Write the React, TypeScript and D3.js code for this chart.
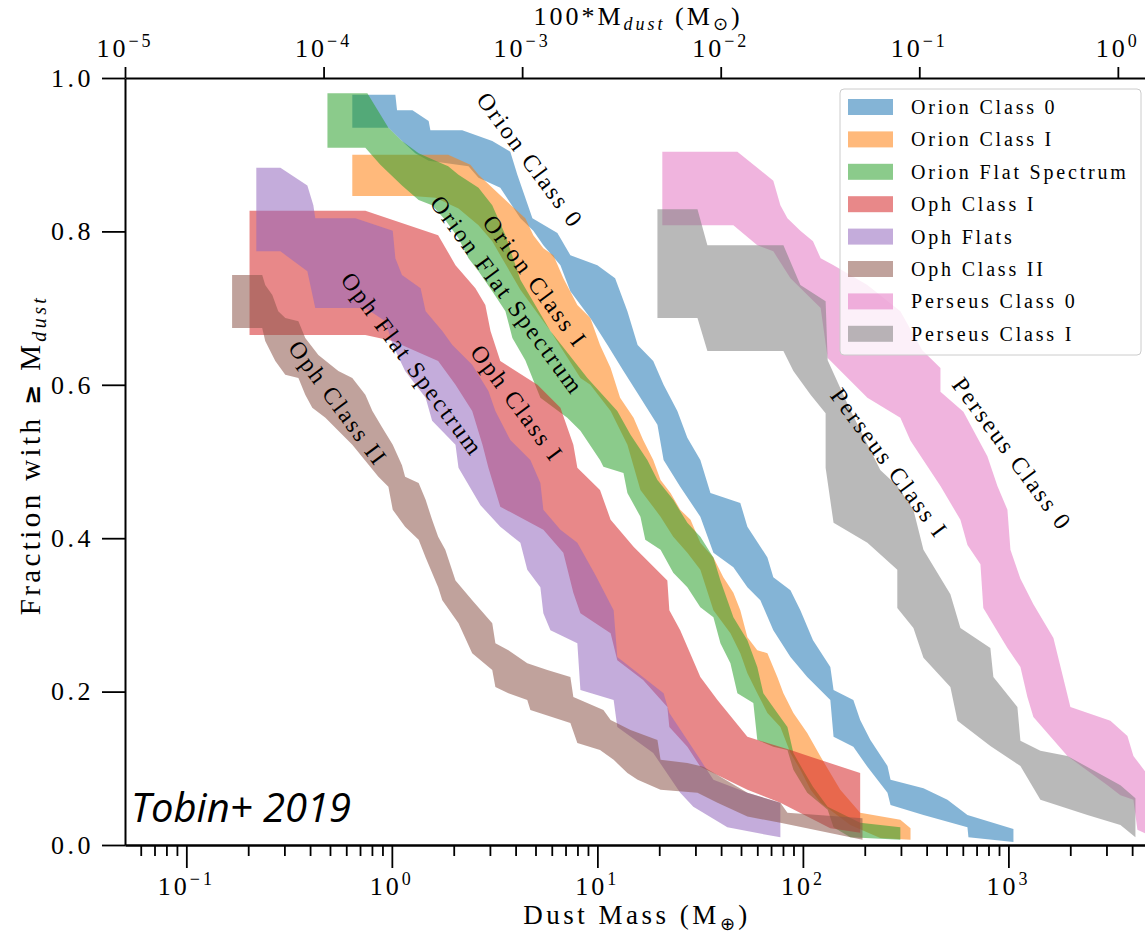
import React, { useEffect, useRef } from 'react';
import * as d3 from 'd3';

type Pt = [number, number];

// Each band: [dust mass (M_earth), fraction with >= M_dust], upper edge and lower edge
const orion0Upper: Pt[] = [[0.642,0.978],[1.04,0.978],[1.06,0.958],[1.26,0.958],[1.51,0.944],[1.54,0.932],[2.20,0.932],[3.08,0.918],[3.77,0.904],[4.08,0.874],[4.83,0.817],[6.39,0.798],[7.39,0.769],[10.0,0.756],[12.2,0.739],[14.0,0.696],[15.7,0.652],[18.7,0.631],[21.0,0.600],[24.5,0.566],[27.4,0.531],[31.7,0.502],[35.5,0.459],[49.6,0.446],[53.7,0.415],[67.2,0.375],[71.8,0.349],[87.0,0.332],[97.2,0.306],[112,0.267],[136,0.232],[141,0.202],[176,0.189],[190,0.163],[213,0.137],[258,0.103],[267,0.085],[386,0.074],[505,0.059],[632,0.039],[1058,0.021]];
const orion0Lower: Pt[] = [[0.642,0.935],[0.962,0.935],[1.12,0.918],[1.30,0.902],[1.51,0.892],[2.36,0.885],[2.64,0.870],[3.37,0.857],[4.22,0.817],[4.88,0.801],[5.46,0.782],[6.61,0.756],[7.39,0.722],[9.24,0.687],[11.2,0.652],[13.4,0.618],[16.2,0.583],[19.6,0.548],[21.0,0.502],[25.3,0.467],[31.7,0.428],[36.7,0.381],[45.9,0.362],[53.7,0.336],[62.1,0.319],[71.8,0.280],[87.0,0.245],[105,0.219],[136,0.189],[141,0.141],[176,0.128],[206,0.102],[258,0.068],[267,0.052],[386,0.039],[632,0.023],[639,0.010],[1058,0.004]];

const orion1Upper: Pt[] = [[0.642,0.900],[1.88,0.900],[2.41,0.887],[2.64,0.874],[3.37,0.847],[4.46,0.817],[4.88,0.795],[5.46,0.778],[6.11,0.769],[6.83,0.739],[7.99,0.704],[9.24,0.687],[10.3,0.652],[11.6,0.622],[12.9,0.583],[15.0,0.557],[16.7,0.528],[18.7,0.502],[20.3,0.476],[22.7,0.459],[25.3,0.437],[28.4,0.424],[31.7,0.394],[36.7,0.375],[41.0,0.349],[45.9,0.329],[49.6,0.306],[53.7,0.271],[60.0,0.254],[67.2,0.250],[75.1,0.219],[80.4,0.198],[89.9,0.172],[105,0.146],[122,0.115],[152,0.072],[190,0.042],[298,0.033],[334,0.022]];
const orion1Lower: Pt[] = [[0.642,0.846],[1.26,0.846],[1.63,0.844],[2.11,0.830],[2.64,0.808],[3.08,0.787],[3.37,0.769],[4.22,0.724],[5.91,0.670],[8.27,0.609],[9.24,0.600],[11.6,0.566],[14.0,0.522],[16.2,0.463],[20.3,0.428],[23.4,0.402],[27.4,0.381],[31.7,0.359],[36.7,0.306],[44.4,0.276],[49.6,0.250],[53.7,0.224],[60.0,0.198],[67.2,0.172],[77.7,0.154],[87.0,0.120],[97.2,0.098],[109,0.072],[122,0.055],[170,0.026],[238,0.009],[334,0.007]];

const orionFlatUpper: Pt[] = [[0.486,0.980],[0.760,0.980],[0.962,0.935],[1.12,0.918],[1.35,0.902],[1.63,0.892],[1.88,0.885],[2.11,0.874],[2.64,0.857],[3.08,0.834],[3.57,0.795],[4.22,0.737],[5.91,0.670],[8.94,0.609],[12.5,0.566],[14.5,0.535],[17.5,0.502],[19.6,0.476],[23.4,0.450],[27.4,0.420],[31.7,0.402],[36.7,0.375],[39.7,0.345],[45.9,0.297],[53.7,0.267],[60.0,0.232],[64.2,0.198],[75.1,0.172],[84.1,0.154],[89.9,0.120],[100,0.098],[112,0.076],[132,0.050],[190,0.029],[298,0.023]];
const orionFlatLower: Pt[] = [[0.486,0.909],[0.743,0.909],[0.879,0.887],[1.12,0.860],[1.35,0.841],[1.57,0.834],[1.82,0.815],[2.11,0.791],[2.36,0.765],[2.64,0.748],[3.08,0.722],[3.57,0.696],[3.86,0.661],[4.46,0.632],[5.28,0.583],[7.14,0.557],[8.27,0.540],[10.3,0.502],[10.7,0.493],[13.4,0.485],[14.0,0.459],[16.2,0.428],[17.1,0.398],[20.3,0.385],[23.4,0.355],[27.4,0.336],[31.7,0.310],[36.7,0.297],[39.7,0.263],[44.4,0.237],[48.0,0.198],[57.4,0.185],[60.0,0.137],[71.8,0.128],[84.1,0.124],[89.9,0.098],[105,0.068],[132,0.046],[141,0.023],[170,0.010],[298,0.007]];

const oph1Upper: Pt[] = [[0.203,0.827],[0.743,0.827],[1.68,0.795],[2.04,0.756],[2.55,0.726],[2.85,0.704],[3.02,0.670],[3.37,0.631],[5.11,0.600],[6.61,0.570],[7.64,0.522],[7.99,0.492],[10.3,0.463],[11.6,0.424],[15.0,0.389],[21.9,0.345],[22.4,0.306],[25.3,0.280],[31.7,0.219],[38.4,0.189],[53.7,0.141],[67.2,0.133],[87.0,0.124],[109,0.115],[190,0.094]];
const oph1Lower: Pt[] = [[0.203,0.665],[0.743,0.665],[1.01,0.657],[1.68,0.631],[2.04,0.600],[2.46,0.566],[2.76,0.522],[2.95,0.492],[3.37,0.441],[5.46,0.411],[6.83,0.381],[7.64,0.329],[8.27,0.302],[11.6,0.276],[12.5,0.241],[16.7,0.215],[21.9,0.180],[22.4,0.154],[27.4,0.128],[31.7,0.102],[53.7,0.072],[77.7,0.055],[136,0.022],[190,0.016]];

const ophFlatUpper: Pt[] = [[0.219,0.883],[0.287,0.883],[0.388,0.860],[0.415,0.834],[0.424,0.817],[0.664,0.817],[1.01,0.801],[1.04,0.765],[1.12,0.743],[1.38,0.726],[1.46,0.696],[1.76,0.670],[1.97,0.652],[2.46,0.626],[2.95,0.592],[3.19,0.566],[3.77,0.528],[4.72,0.502],[5.28,0.472],[5.46,0.437],[6.61,0.411],[7.99,0.394],[9.78,0.352],[12.0,0.306],[12.5,0.245],[21.0,0.198],[22.4,0.172],[31.7,0.111],[36.7,0.085],[53.7,0.068],[77.7,0.055]];
const ophFlatLower: Pt[] = [[0.219,0.774],[0.287,0.774],[0.388,0.748],[0.424,0.700],[0.743,0.700],[0.930,0.683],[1.01,0.652],[1.16,0.618],[1.46,0.583],[1.57,0.553],[2.04,0.522],[2.11,0.492],[2.70,0.443],[3.37,0.415],[4.22,0.394],[4.56,0.359],[5.28,0.336],[5.46,0.302],[5.91,0.280],[7.99,0.263],[8.27,0.202],[12.0,0.189],[12.5,0.154],[18.7,0.120],[25.3,0.068],[29.3,0.050],[42.9,0.023],[77.7,0.010]];

const oph2Upper: Pt[] = [[0.167,0.743],[0.234,0.743],[0.242,0.730],[0.262,0.717],[0.280,0.696],[0.303,0.687],[0.351,0.683],[0.379,0.661],[0.439,0.639],[0.549,0.618],[0.642,0.609],[0.743,0.587],[0.804,0.566],[0.899,0.544],[1.01,0.522],[1.12,0.495],[1.16,0.480],[1.35,0.472],[1.46,0.450],[1.57,0.424],[1.68,0.402],[1.82,0.385],[2.04,0.345],[2.46,0.319],[3.08,0.289],[3.19,0.263],[3.69,0.254],[4.56,0.237],[5.71,0.228],[7.39,0.219],[7.64,0.193],[10.7,0.176],[11.6,0.163],[14.5,0.150],[19.6,0.137],[20.3,0.111],[27.4,0.107],[32.8,0.102],[53.7,0.068],[77.7,0.055],[84.1,0.042],[195,0.035]];
const oph2Lower: Pt[] = [[0.167,0.674],[0.234,0.674],[0.242,0.657],[0.271,0.631],[0.303,0.613],[0.351,0.609],[0.379,0.587],[0.410,0.570],[0.475,0.557],[0.549,0.540],[0.642,0.522],[0.743,0.501],[0.860,0.480],[0.962,0.467],[1.01,0.437],[1.16,0.415],[1.35,0.398],[1.46,0.375],[1.68,0.336],[1.76,0.319],[2.11,0.289],[2.46,0.250],[3.08,0.228],[3.19,0.206],[3.69,0.198],[4.56,0.189],[4.72,0.176],[7.39,0.159],[7.99,0.133],[10.3,0.124],[12.0,0.111],[14.0,0.094],[15.7,0.085],[20.3,0.072],[30.7,0.068],[38.4,0.055],[53.7,0.037],[77.7,0.029],[195,0.007]];

const per0Upper: Pt[] = [[20.7,0.904],[48.0,0.904],[60.0,0.883],[71.8,0.866],[77.7,0.834],[84.1,0.817],[97.2,0.801],[112,0.787],[122,0.765],[141,0.756],[206,0.730],[298,0.696],[381,0.645],[467,0.622],[467,0.591],[604,0.565],[790,0.507],[884,0.468],[989,0.437],[1023,0.385],[1144,0.347],[1323,0.314],[1656,0.270],[2003,0.180],[3136,0.162],[3794,0.142],[4058,0.116],[4910,0.087]];
const per0Lower: Pt[] = [[20.7,0.808],[45.9,0.808],[60.0,0.782],[71.8,0.774],[87.0,0.739],[122,0.700],[132,0.635],[206,0.583],[298,0.557],[334,0.527],[467,0.468],[584,0.424],[632,0.391],[731,0.366],[755,0.309],[989,0.257],[1144,0.232],[1237,0.193],[1323,0.167],[1937,0.116],[3033,0.078],[3508,0.065],[4058,0.059],[4243,0.020],[4910,0.012]];

const per1Upper: Pt[] = [[19.6,0.829],[30.7,0.829],[34.3,0.782],[80.4,0.782],[97.2,0.730],[129,0.709],[132,0.632],[170,0.567],[238,0.489],[288,0.468],[345,0.437],[386,0.385],[522,0.327],[584,0.283],[817,0.257],[845,0.219],[1106,0.180],[1144,0.136],[1431,0.123],[1937,0.116],[3508,0.078],[4150,0.061]];
const per1Lower: Pt[] = [[19.6,0.687],[30.7,0.687],[34.3,0.644],[80.4,0.644],[89.9,0.618],[109,0.587],[129,0.563],[129,0.492],[141,0.420],[206,0.394],[288,0.359],[288,0.309],[345,0.283],[386,0.244],[522,0.206],[565,0.162],[817,0.129],[1144,0.103],[1431,0.059],[2423,0.039],[3508,0.026],[4150,0.010]];

const seriesNames = ['Orion Class 0', 'Orion Class I', 'Orion Flat Spectrum', 'Oph Class I', 'Oph Flats', 'Oph Class II', 'Perseus Class 0', 'Perseus Class I'];
const seriesColors = ['#1f77b4', '#ff7f0e', '#2ca02c', '#d62728', '#9467bd', '#8c564b', '#e377c2', '#7f7f7f'];
const bandUppers = [orion0Upper, orion1Upper, orionFlatUpper, oph1Upper, ophFlatUpper, oph2Upper, per0Upper, per1Upper];
const bandLowers = [orion0Lower, orion1Lower, orionFlatLower, oph1Lower, ophFlatLower, oph2Lower, per0Lower, per1Lower];

// labels written along the curves: text, mass, fraction
const curveLabels = ['Orion Class 0', 'Orion Class I', 'Orion Flat Spectrum', 'Oph Flat Spectrum', 'Oph Class I', 'Oph Class II', 'Perseus Class I', 'Perseus Class 0'];
const curveLabelMass = [4.72, 4.99, 3.65, 1.26, 4.08, 0.549, 264, 1046];
const curveLabelFrac = [0.893, 0.735, 0.717, 0.627, 0.576, 0.576, 0.498, 0.51];

const yTicks = [0, 0.2, 0.4, 0.6, 0.8, 1.0];
const bottomExponents = [-1, 0, 1, 2, 3];
const topExponents = [-5, -4, -3, -2, -1, 0];

const W = 1145;
const H = 934;
const margin = { top: 78, right: 0, bottom: 89, left: 125 };
const serif = "'Liberation Serif', 'Times New Roman', serif";

const App = () => {
  const ref = useRef<SVGSVGElement>(null);

  useEffect(() => {
    const svg = d3.select(ref.current);
    svg.selectAll('*').remove();

    const x0 = margin.left;
    const x1 = W - margin.right;
    const y0 = margin.top;
    const y1 = H - margin.bottom;

    const x = d3.scaleLog().domain([0.0503, 4620]).range([x0, x1]);
    const xTop = d3.scaleLog().domain([1e-5, 1.37]).range([x0, x1]);
    const y = d3.scaleLinear().domain([0, 1]).range([y1, y0]);

    svg.append('defs').append('clipPath').attr('id', 'plot-clip')
      .append('rect').attr('x', x0).attr('y', y0).attr('width', x1 - x0).attr('height', y1 - y0);

    // bands
    const edge = d3.line<Pt>().x((d) => x(d[0])).y((d) => y(d[1]));
    const bands = svg.append('g').attr('clip-path', 'url(#plot-clip)');
    bandUppers.forEach((up, i) => {
      const pts = up.concat(bandLowers[i].slice().reverse());
      bands.append('path')
        .attr('d', edge(pts) + 'Z')
        .attr('fill', seriesColors[i])
        .attr('fill-opacity', 0.55);
    });

    // curve labels
    curveLabels.forEach((t, i) => {
      svg.append('text')
        .attr('transform', `translate(${x(curveLabelMass[i])},${y(curveLabelFrac[i])}) rotate(53.5)`)
        .attr('text-anchor', 'middle')
        .attr('dy', '0.35em')
        .style('font-family', serif)
        .style('font-size', '24px')
        .style('letter-spacing', '2.3px')
        .text(t);
    });

    // axes
    const styleAxis = (g: d3.Selection<SVGGElement, unknown, null, undefined>) => {
      g.select('.domain').attr('stroke', '#000').attr('stroke-width', 2);
      g.selectAll('.tick line').attr('stroke', '#000').attr('stroke-width', 1.8);
    };

    const minors: number[] = [];
    for (let e = -2; e <= 3; e++) {
      for (let k = 2; k <= 9; k++) {
        const v = k * 10 ** e;
        if (v > 0.0503 && v < 4620) minors.push(v);
      }
    }

    svg.append('g')
      .attr('transform', `translate(0,${y1})`)
      .call(d3.axisBottom(x).tickValues(minors).tickSize(11).tickSizeOuter(0).tickFormat(() => ''))
      .call(styleAxis);
    svg.append('g')
      .attr('transform', `translate(0,${y1})`)
      .call(d3.axisBottom(x).tickValues(bottomExponents.map((e) => 10 ** e)).tickSize(23).tickSizeOuter(0).tickFormat(() => ''))
      .call(styleAxis);

    svg.append('g')
      .attr('transform', `translate(0,${y0})`)
      .call(d3.axisTop(xTop).tickValues(topExponents.map((e) => 10 ** e)).tickSize(11).tickSizeOuter(0).tickFormat(() => ''))
      .call(styleAxis);

    const left = svg.append('g')
      .attr('transform', `translate(${x0},0)`)
      .call(d3.axisLeft(y).tickValues(yTicks).tickSize(23).tickSizeOuter(0).tickPadding(8).tickFormat(d3.format('.1f')))
      .call(styleAxis);
    left.selectAll('.tick text')
      .style('font-family', serif)
      .style('font-size', '26px')
      .style('letter-spacing', '3.5px')
      .attr('fill', '#000');

    const powerLabel = (px: number, py: number, e: number) => {
      const t = svg.append('text')
        .attr('x', px).attr('y', py)
        .attr('text-anchor', 'middle')
        .style('font-family', serif)
        .style('font-size', '26px')
        .style('letter-spacing', '3px');
      t.append('tspan').text('10');
      t.append('tspan').attr('dy', -10).style('font-size', '18px').text(e < 0 ? `\u2212${-e}` : `${e}`);
    };
    bottomExponents.forEach((e) => powerLabel(x(10 ** e), 895, e));
    topExponents.forEach((e) => powerLabel(xTop(10 ** e), 57, e));

    // axis titles
    const bottomTitle = svg.append('text')
      .attr('x', 637).attr('y', 924)
      .attr('text-anchor', 'middle')
      .style('font-family', serif).style('font-size', '27px').style('letter-spacing', '3.5px');
    bottomTitle.append('tspan').text('Dust Mass (M');
    bottomTitle.append('tspan').attr('dy', 6).style('font-size', '18px').text('\u2295');
    bottomTitle.append('tspan').attr('dy', -6).text(')');

    const topTitle = svg.append('text')
      .attr('x', 638).attr('y', 25)
      .attr('text-anchor', 'middle')
      .style('font-family', serif).style('font-size', '26px').style('letter-spacing', '3px');
    topTitle.append('tspan').text('100*M');
    topTitle.append('tspan').attr('dy', 5).style('font-size', '18px').style('font-style', 'italic').text('dust');
    topTitle.append('tspan').attr('dy', -5).text(' (M');
    topTitle.append('tspan').attr('dy', 5).style('font-size', '18px').text('\u2299');
    topTitle.append('tspan').attr('dy', -5).text(')');

    const yTitle = svg.append('text')
      .attr('transform', `translate(40,455) rotate(-90)`)
      .attr('text-anchor', 'middle')
      .style('font-family', serif).style('font-size', '29px').style('letter-spacing', '3.4px');
    yTitle.append('tspan').text('Fraction with ');
    yTitle.append('tspan').style('font-family', "'DejaVu Sans', sans-serif").style('font-size', '24px').style('font-weight', 'bold').text('\u2265');
    yTitle.append('tspan').text(' M');
    yTitle.append('tspan').attr('dy', 6).style('font-size', '20px').style('font-style', 'italic').text('dust');

    // legend
    const lg = svg.append('g');
    lg.append('rect')
      .attr('x', 840).attr('y', 89).attr('width', 301).attr('height', 266).attr('rx', 4)
      .attr('fill', '#fff').attr('fill-opacity', 0.8)
      .attr('stroke', '#cccccc').attr('stroke-width', 1);
    seriesNames.forEach((name, i) => {
      const ry = 107 + i * 32.4;
      lg.append('rect')
        .attr('x', 848).attr('y', ry - 8).attr('width', 45).attr('height', 16)
        .attr('fill', seriesColors[i]).attr('fill-opacity', 0.55);
      lg.append('text')
        .attr('x', 911).attr('y', ry).attr('dy', '0.35em')
        .style('font-family', serif).style('font-size', '20px').style('letter-spacing', '2.8px')
        .text(name);
    });

    // annotation
    svg.append('text')
      .attr('x', 131).attr('y', 822)
      .style('font-family', "'Open Sans', sans-serif")
      .style('font-style', 'italic')
      .style('font-size', '40px')
      .text('Tobin+ 2019');
  }, []);

  return (
    <div style={{ position: 'absolute', left: 0, top: 0 }}>
      <svg ref={ref} width={W} height={H}></svg>
    </div>
  );
};

export default App;
